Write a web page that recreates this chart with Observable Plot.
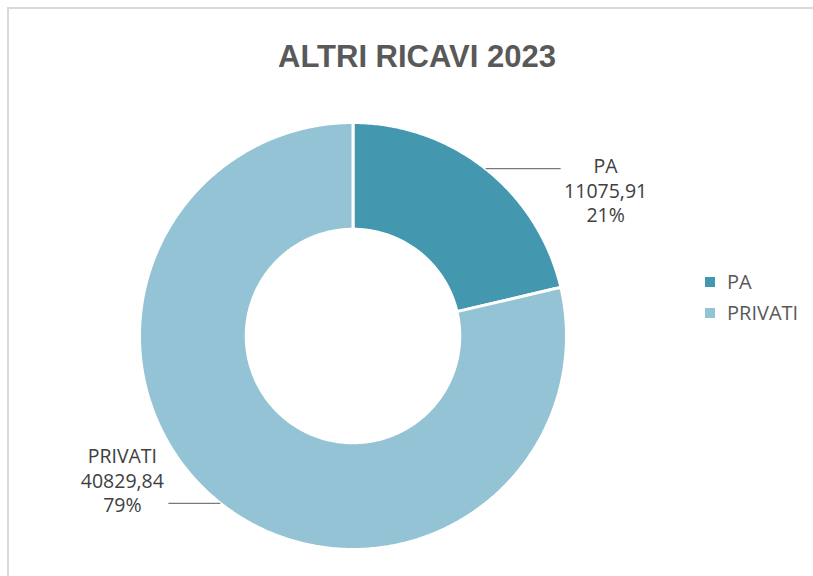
<!DOCTYPE html>
<html><head><meta charset="utf-8">
<script src="https://cdn.jsdelivr.net/npm/d3@7"></script>
<script src="https://cdn.jsdelivr.net/npm/@observablehq/plot@0.6"></script>
<style>
body{margin:0;background:#fff;}
#wrap{position:relative;width:813px;height:576px;overflow:hidden;background:#fff;}
#frame{position:absolute;left:7px;top:7px;width:830px;height:620px;border-left:2px solid #d9d9d9;border-top:2px solid #d9d9d9;box-sizing:border-box;}
#chart{position:absolute;left:0;top:0;}
#legend{position:absolute;left:705px;top:266px;font-family:"Open Sans",sans-serif;font-size:20px;color:#595959;}
#legend .row{display:flex;align-items:center;height:31px;}
#legend .sw{width:10px;height:10px;margin-right:12px;}
</style></head><body>
<div id="wrap"><div id="frame"></div><div id="chart"></div><div id="legend"></div></div>
<script>
const title = "ALTRI RICAVI 2023";
const categories = ["PA", "PRIVATI"];
const values = [11075.91, 40829.84];
const colors = ["#4398B0", "#93C3D5"];

const data = categories.map((name, i) => ({name, value: values[i]}));
const total = d3.sum(values);
const itFmt = d3.formatLocale({decimal: ",", thousands: "", grouping: [3], currency: ["", "€"]}).format(".2f");

// layout constants
const cx = 352.5, cy = 335.5, R = 213.5, inner = 0.5;

const arcs = d3.pie().sort(null).value(d => d.value)(data);
const poly = [];
for (const s of arcs) {
  const n = Math.max(2, Math.ceil((s.endAngle - s.startAngle) / (Math.PI / 360)));
  for (let i = 0; i <= n; i++) {
    const a = s.startAngle + (s.endAngle - s.startAngle) * i / n;
    poly.push({name: s.data.name, x: Math.sin(a), y: Math.cos(a)});
  }
  for (let i = n; i >= 0; i--) {
    const a = s.startAngle + (s.endAngle - s.startAngle) * i / n;
    poly.push({name: s.data.name, x: inner * Math.sin(a), y: inner * Math.cos(a)});
  }
}

const labels = arcs.map(s => {
  const mid = (s.startAngle + s.endAngle) / 2;
  const x = Math.sin(mid), y = Math.cos(mid);
  const right = x >= 0;
  const len = right ? 75 / R : 52 / R;
  return {
    name: s.data.name,
    right,
    x1: x, y1: y,
    x2: right ? x + len : x - len,
    l1: s.data.name,
    l2: itFmt(s.data.value),
    l3: `${Math.round(s.data.value / total * 100)}%`
  };
});

const lineGap = 24.5;
const labelStyle = {textAnchor: "middle", fontSize: 19.5, fontFamily: "Open Sans", fill: "#404040"};
const labelMarks = [];
for (const [key, k] of [["l1", -1], ["l2", 0], ["l3", 1]]) {
  labelMarks.push(Plot.text(labels.filter(d => d.right), {x: "x2", y: "y1", text: key, dx: 45, dy: 23 + k * lineGap, ...labelStyle}));
  labelMarks.push(Plot.text(labels.filter(d => !d.right), {x: "x2", y: "y1", text: key, dx: -46, dy: -22 + k * lineGap, ...labelStyle}));
}

const chart = Plot.plot({
  width: 813,
  height: 576,
  margin: 0,
  style: {background: "transparent", overflow: "visible"},
  x: {domain: [-1, 1], range: [cx - R, cx + R], axis: null},
  y: {domain: [-1, 1], range: [cy + R, cy - R], axis: null},
  color: {domain: categories, range: colors},
  marks: [
    Plot.line(poly, {x: "x", y: "y", z: "name", fill: "name", stroke: "white", strokeWidth: 3, curve: "linear-closed"}),
    Plot.link(labels, {x1: "x1", y1: "y1", x2: "x2", y2: "y1", stroke: "#595959", strokeWidth: 1}),
    ...labelMarks,
    Plot.text([title], {frameAnchor: "top", text: d => d, dx: 10, dy: 57, lineAnchor: "middle", fontSize: 31, fontWeight: "bold", fontFamily: "Liberation Sans", fill: "#595959"})
  ]
});
document.getElementById("chart").appendChild(chart);

const color = chart.scale("color");
const legend = document.getElementById("legend");
color.domain.forEach((name, i) => {
  const row = document.createElement("div");
  row.className = "row";
  const sw = document.createElement("span");
  sw.className = "sw";
  sw.style.background = color.range[i];
  const t = document.createElement("span");
  t.textContent = name;
  row.appendChild(sw); row.appendChild(t);
  legend.appendChild(row);
});
</script>
</body></html>
